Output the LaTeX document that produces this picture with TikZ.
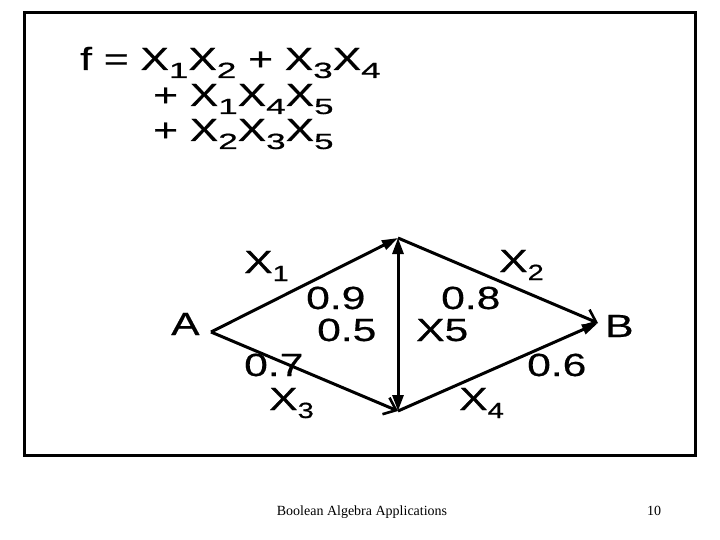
\documentclass[tikz,border=0pt]{standalone}
\usepackage{fontspec}
\usetikzlibrary{arrows.meta}
\newfontfamily\arw[FakeStretch=1.33,FakeBold=0.5]{Liberation Sans}
\newfontfamily\tms{Liberation Serif}
\newcommand\lsub[1]{\raisebox{-8pt}{\fontsize{22}{22}\selectfont #1}}
\newcommand\fsub[1]{\raisebox{-8pt}{\scalebox{1.2}[1]{\fontsize{22}{22}\selectfont #1}}}
\tikzset{
  lbl/.style={inner sep=0pt, anchor=base west, font=\arw\fontsize{32}{32}\selectfont},
  edge/.style={line width=3pt},
  fill tip/.style={-{Triangle[length=16pt,width=10pt]}},
  open tip/.style={-{Straight Barb[length=11pt,width=18pt,line width=2.6pt]}},
}
\begin{document}
\begin{tikzpicture}[x=1pt,y=-1pt]
\useasboundingbox (0,0) rectangle (720,540);
\fill[white] (0,0) rectangle (720,540);
\draw[line width=3pt] (24.5,12.5) rectangle (695.5,455.5);
% formula
\node[lbl] (f1) at (80,70) {f = X\fsub{1}X\fsub{2} + X\fsub{3}X\fsub{4}};
\node[lbl] (f2) at (153,106) {+ X\fsub{1}X\fsub{4}X\fsub{5}};
\node[lbl] (f3) at (153,141) {+ X\fsub{2}X\fsub{3}X\fsub{5}};
% graph vertices
\coordinate (A) at (211,332);
\coordinate (T) at (398,238);
\coordinate (D) at (398,411);
\coordinate (B) at (598,323);
\draw[edge, fill tip] (A) -- (T);
\draw[edge, open tip] (A) -- (D);
\draw[edge, open tip] (T) -- (B);
\draw[edge, fill tip] (D) -- (B);
\draw[edge, {Triangle[length=16pt,width=11pt]}-{Triangle[length=16pt,width=11pt]}] (T) -- (D);
% labels
\node[lbl] (lA) at (171,335) {A};
\node[lbl] (lB) at (605,337) {B};
\node[lbl] (lx1) at (244,273) {X\lsub{1}};
\node[lbl] (l09) at (306,309) {0.9};
\node[lbl] (l05) at (317,341) {0.5};
\node[lbl] (lx5) at (416,341) {X5};
\node[lbl] (l08) at (441,309) {0.8};
\node[lbl] (lx2) at (499,272) {X\lsub{2}};
\node[lbl] (l07) at (244,376) {0.7};
\node[lbl] (lx3) at (269,410) {X\lsub{3}};
\node[lbl] (l06) at (527,376) {0.6};
\node[lbl] (lx4) at (459,410) {X\lsub{4}};
% footer
\node[inner sep=0pt, anchor=base, font=\tms\fontsize{14}{14}\selectfont] (foot) at (362,515) {Boolean Algebra Applications};
\node[inner sep=0pt, anchor=base, font=\tms\fontsize{14}{14}\selectfont] (pg) at (654,515) {10};
\end{tikzpicture}
\end{document}
